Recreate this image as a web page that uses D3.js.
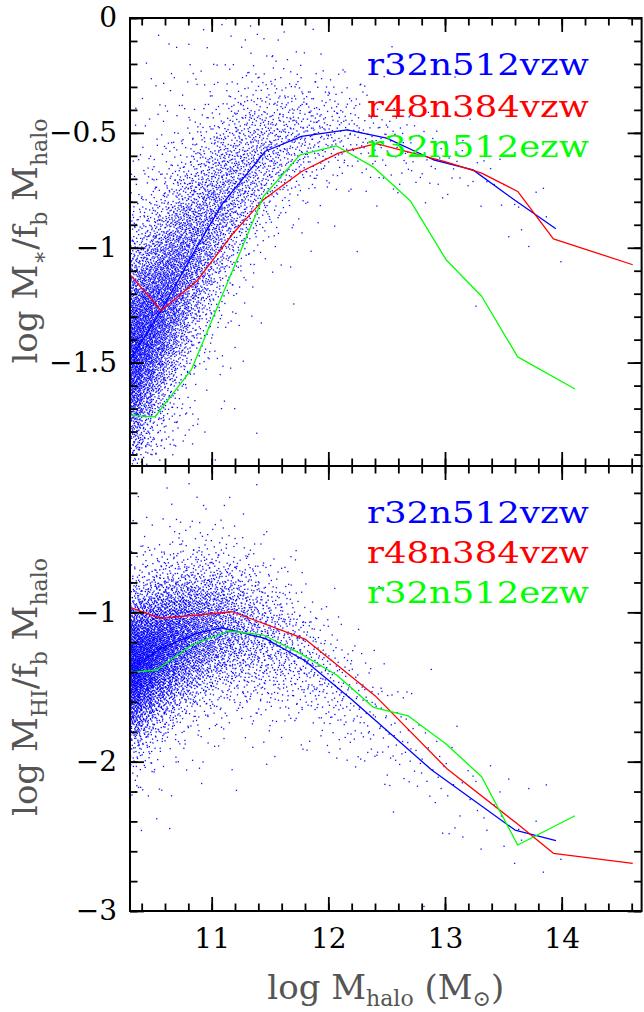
<!DOCTYPE html>
<html><head><meta charset="utf-8">
<script src="https://cdn.jsdelivr.net/npm/d3@7"></script>
<style>body{margin:0;background:#fff}</style>
</head><body>
<svg id="c" width="644" height="1012"></svg>
<script>
// ---------------- data ----------------
const seriesNames = ["r32n512vzw", "r48n384vzw", "r32n512ezw"];
const seriesColors = ["#0000ff", "#ff0000", "#00ff00"];

// top panel: log M*/fb Mhalo
const topBlue  = [[10.3,-1.49],[10.57,-1.27],[10.87,-1.00],[11.09,-0.81],[11.46,-0.58],[11.77,-0.515],[12.16,-0.487],[12.50,-0.523],[12.90,-0.617],[13.24,-0.661],[13.59,-0.79],[13.95,-0.917]];
const topRed   = [[10.3,-1.117],[10.566,-1.273],[10.871,-1.146],[11.186,-0.936],[11.443,-0.791],[11.771,-0.668],[12.086,-0.588],[12.41,-0.547],[12.7,-0.585],[13.0,-0.625],[13.314,-0.675],[13.623,-0.755],[13.929,-0.961],[14.609,-1.074]];
const topGreen = [[10.3,-1.73],[10.514,-1.736],[10.829,-1.528],[11.143,-1.143],[11.443,-0.777],[11.757,-0.596],[12.071,-0.557],[12.386,-0.649],[12.7,-0.794],[13.009,-1.052],[13.314,-1.211],[13.623,-1.475],[14.114,-1.615]];

// bottom panel: log MHI/fb Mhalo
const botBlue  = [[10.3,-1.386],[10.566,-1.241],[10.871,-1.141],[11.086,-1.103],[11.457,-1.174],[11.8,-1.324],[12.2,-1.583],[12.886,-2.056],[13.6,-2.458],[13.951,-2.529]];
const botRed   = [[10.3,-0.967],[10.566,-1.040],[11.177,-0.996],[11.8,-1.179],[12.4,-1.558],[13.014,-2.045],[13.614,-2.413],[13.929,-2.614],[14.609,-2.681]];
const botGreen = [[10.3,-1.404],[10.529,-1.386],[10.829,-1.219],[11.143,-1.125],[11.443,-1.152],[11.757,-1.275],[12.071,-1.42],[12.386,-1.636],[12.686,-1.694],[13.009,-1.882],[13.314,-2.101],[13.623,-2.558],[14.114,-2.362]];

// scatter cloud summary per 0.1-dex halo mass column
const colStart  = [10.3,10.4,10.5,10.6,10.7,10.8,10.9,11.0,11.1,11.2,11.3,11.4,11.5,11.6,11.7,11.8,11.9,12.0,12.1,12.2,12.3,12.4,12.5,12.6,12.7,12.8,12.9,13.0,13.1,13.2,13.3,13.4,13.5,13.6,13.7,13.8,13.9];
const colCount  = [1150,980,820,690,570,470,390,325,270,225,185,152,125,102,84,68,56,45,37,30,24,19,16,13,10,8,7,6,5,4,4,3,3,2,2,2,1];
const topMed    = [-1.45,-1.37,-1.29,-1.20,-1.11,-1.02,-0.94,-0.85,-0.78,-0.71,-0.65,-0.60,-0.57,-0.54,-0.52,-0.51,-0.50,-0.49,-0.49,-0.50,-0.51,-0.52,-0.54,-0.56,-0.58,-0.61,-0.63,-0.64,-0.65,-0.67,-0.70,-0.74,-0.78,-0.82,-0.85,-0.89,-0.92];
const topSd     = [0.23,0.23,0.23,0.23,0.23,0.22,0.22,0.21,0.20,0.19,0.18,0.17,0.16,0.15,0.14,0.13,0.12,0.12,0.11,0.11,0.10,0.10,0.10,0.10,0.10,0.10,0.10,0.10,0.10,0.10,0.10,0.10,0.10,0.10,0.10,0.10,0.10];
const botMed    = [-1.37,-1.32,-1.26,-1.22,-1.18,-1.15,-1.12,-1.11,-1.10,-1.12,-1.14,-1.17,-1.20,-1.24,-1.29,-1.35,-1.41,-1.48,-1.55,-1.61,-1.68,-1.74,-1.81,-1.88,-1.95,-2.02,-2.08,-2.14,-2.20,-2.25,-2.31,-2.37,-2.43,-2.47,-2.49,-2.51,-2.53];
const botSd     = [0.24,0.24,0.24,0.24,0.24,0.24,0.24,0.24,0.24,0.24,0.24,0.24,0.23,0.22,0.21,0.20,0.20,0.20,0.20,0.20,0.20,0.20,0.20,0.20,0.20,0.20,0.20,0.20,0.20,0.20,0.20,0.20,0.20,0.20,0.20,0.20,0.20];

// ticks
const xTickValues = [11, 12, 13, 14];
const xTickLabels = ["11", "12", "13", "14"];
const topTickValues = [0, -0.5, -1, -1.5];
const topTickLabels = ["0", "\u22120.5", "\u22121", "\u22121.5"];
const botTickValues = [-1, -2, -3];
const botTickLabels = ["\u22121", "\u22122", "\u22123"];

// ---------------- rendering ----------------
const svg = d3.select("#c");
const L = 130, R = 641.6, T = 18, MID = 466, B = 911;
const x = d3.scaleLinear().domain([10.3, 14.685]).range([L, R]);
const yTop = d3.scaleLinear().domain([-1.95, 0]).range([MID, T]);
const yBot = d3.scaleLinear().domain([-3, -0.02]).range([B, MID]);

const xMinor = d3.range(52, 74).map(v => v / 5);
const topMinor = d3.range(-19, 1).map(v => v / 10);
const botMinor = d3.range(-15, 0).map(v => v / 5);

function halton(i, b) { let f = 1, r = 0; while (i > 0) { f /= b; r += f * (i % b); i = Math.floor(i / b); } return r; }
function probit(p) {
  const a=[-39.69683028665376,220.9460984245205,-275.9285104469687,138.3577518672690,-30.66479806614716,2.506628277459239];
  const b=[-54.47609879822406,161.5858368580409,-155.6989798598866,66.80131188771972,-13.28068155288572];
  const c=[-0.007784894002430293,-0.3223964580411365,-2.400758277161838,-2.549732539343734,4.374664141464968,2.938163982698783];
  const d=[0.007784695709041462,0.3224671290700398,2.445134137142996,3.754408661907416];
  const pl=0.02425;
  if (p < pl) { const q=Math.sqrt(-2*Math.log(p)); return (((((c[0]*q+c[1])*q+c[2])*q+c[3])*q+c[4])*q+c[5])/((((d[0]*q+d[1])*q+d[2])*q+d[3])*q+1); }
  if (p > 1-pl) { const q=Math.sqrt(-2*Math.log(1-p)); return -(((((c[0]*q+c[1])*q+c[2])*q+c[3])*q+c[4])*q+c[5])/((((d[0]*q+d[1])*q+d[2])*q+d[3])*q+1); }
  const q=p-0.5, r=q*q;
  return (((((a[0]*r+a[1])*r+a[2])*r+a[3])*r+a[4])*r+a[5])*q/(((((b[0]*r+b[1])*r+b[2])*r+b[3])*r+b[4])*r+1);
}
// build cloud points (deterministic placement inside each estimated column distribution)
const topPts = [], botPts = [];
let k = 1;
colStart.forEach((x0, c) => {
  for (let j = 0; j < colCount[c]; j++, k++) {
    const u = halton(k, 2), v = halton(k, 3), w = halton(k, 5), v2 = halton(k, 7);
    const tail = w < 0.12;
    const xv = x0 + 0.1 * u;
    topPts.push({ x: xv, y: topMed[c] + topSd[c] * (tail ? 2.3 : 1) * probit(v) });
    botPts.push({ x: xv, y: botMed[c] + botSd[c] * (tail ? 1.7 : 1) * probit(v2) });
  }
});

const panels = [
  { y: yTop, top: T, bottom: MID, majors: topTickValues, labels: topTickLabels, minors: topMinor, pts: topPts,
    lines: [topBlue, topRed, topGreen], legendY: [75, 116.5, 156.5], id: "t" },
  { y: yBot, top: MID, bottom: B, majors: botTickValues, labels: botTickLabels, minors: botMinor, pts: botPts,
    lines: [botBlue, botRed, botGreen], legendY: [523, 563, 603], id: "b" }
];

const defs = svg.append("defs");
panels.forEach(p => {
  defs.append("clipPath").attr("id", "clip" + p.id).append("rect")
    .attr("x", L).attr("y", p.top).attr("width", R - L).attr("height", p.bottom - p.top);

  const gp = svg.append("g").attr("clip-path", `url(#clip${p.id})`);
  gp.append("g").selectAll("rect").data(p.pts).join("rect")
    .attr("x", d => x(d.x) - 0.65).attr("y", d => p.y(d.y) - 0.65)
    .attr("width", 1.3).attr("height", 1.3).attr("fill", "#0000ff").attr("fill-opacity", 0.95);

  const line = d3.line().x(d => x(d[0])).y(d => p.y(d[1]));
  p.lines.forEach((ln, i) => {
    gp.append("path").datum(ln).attr("d", line).attr("fill", "none")
      .attr("stroke", seriesColors[i]).attr("stroke-width", 1.3).attr("stroke-linejoin", "round");
  });

  // axes (inward ticks on all sides)
  const addAxis = (axis, tx, ty) => {
    const g = svg.append("g").attr("transform", `translate(${tx},${ty})`).call(axis);
    g.select(".domain").remove();
    g.selectAll("line").attr("stroke", "#000").attr("stroke-width", 1.8);
    g.attr("font-family", "DejaVu Serif").attr("font-size", 28);
    g.selectAll("text").attr("fill", "#000");
    return g;
  };
  addAxis(d3.axisLeft(p.y).tickValues(p.minors).tickSize(-7.5).tickFormat(""), L, 0);
  addAxis(d3.axisLeft(p.y).tickValues(p.majors).tickSize(-14).tickPadding(13).tickFormat((d, i) => p.labels[i]), L, 0);
  addAxis(d3.axisRight(p.y).tickValues(p.minors).tickSize(-7.5).tickFormat(""), R, 0);
  addAxis(d3.axisRight(p.y).tickValues(p.majors).tickSize(-14).tickFormat(""), R, 0);
  addAxis(d3.axisTop(x).tickValues(xMinor).tickSize(-7.5).tickFormat(""), 0, p.top);
  addAxis(d3.axisTop(x).tickValues(xTickValues).tickSize(-14).tickFormat(""), 0, p.top);
  addAxis(d3.axisBottom(x).tickValues(xMinor).tickSize(-7.5).tickFormat(""), 0, p.bottom);
  if (p.id === "b") {
    addAxis(d3.axisBottom(x).tickValues(xTickValues).tickSize(-14).tickPadding(17).tickFormat((d, i) => xTickLabels[i]), 0, p.bottom);
  } else {
    addAxis(d3.axisBottom(x).tickValues(xTickValues).tickSize(-14).tickFormat(""), 0, p.bottom);
  }

  svg.append("rect").attr("x", L).attr("y", p.top).attr("width", R - L).attr("height", p.bottom - p.top)
    .attr("fill", "none").attr("stroke", "#000").attr("stroke-width", 2);

  // legend
  seriesNames.forEach((n, i) => {
    svg.append("text").attr("x", 367).attr("y", p.legendY[i]).text(n)
      .attr("font-family", "DejaVu Serif").attr("font-size", 30)
      .attr("fill", seriesColors[i]).attr("textLength", 222).attr("lengthAdjust", "spacingAndGlyphs");
  });
});

// axis titles
function title(parts, tx, ty, rot, shift) {
  const t = svg.append("text").attr("transform", `translate(${tx},${ty}) rotate(${rot})`)
    .attr("text-anchor", "middle").attr("font-family", "DejaVu Serif").attr("font-size", 34).attr("fill", "#555");
  let sub = false;
  parts.forEach(([s, isSub]) => {
    const ts = t.append("tspan").text(s);
    if (isSub && !sub) { ts.attr("dy", shift).attr("font-size", 22); sub = true; }
    else if (isSub) { ts.attr("font-size", 22); }
    else if (!isSub && sub) { ts.attr("dy", -shift); sub = false; }
  });
}
title([["log M", false], ["halo", true], [" (M", false], ["\u2299", true], [")", false]], 385.8, 999, 0, 7);
title([["log M", false], ["\u2217", true], ["/f", false], ["b", true], [" M", false], ["halo", true]], 37, 241, -90, 10);
title([["log M", false], ["HI", true], ["/f", false], ["b", true], [" M", false], ["halo", true]], 37, 687, -90, 10);
</script>
</body></html>
